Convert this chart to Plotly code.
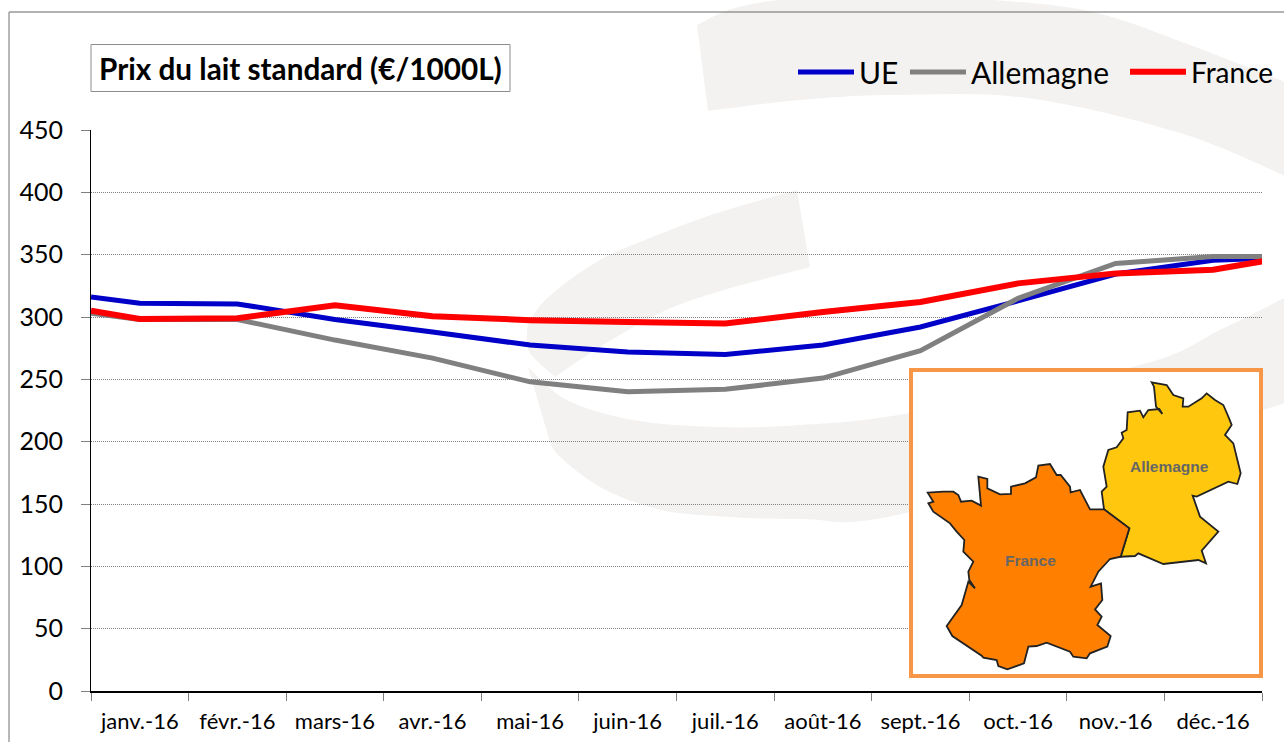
import plotly.graph_objects as go

months = ["janv.-16", "févr.-16", "mars-16", "avr.-16", "mai-16", "juin-16",
          "juil.-16", "août-16", "sept.-16", "oct.-16", "nov.-16", "déc.-16"]
# index positions: month centres 0..11, plus the two clipped edge points of the source line
x_pos = [-0.5, 0, 1, 2, 3, 4, 5, 6, 7, 8, 9, 10, 11, 11.53]
ue = [316, 311, 310.5, 298, 288, 277.5, 272, 270, 277.5, 292, 313, 334.5, 345.5, 347]
allemagne = [303, 298, 298, 281.5, 267, 248, 240, 242, 251, 273, 315, 343, 348.5, 348.5]
france = [305, 298.5, 299, 309.5, 300.7, 297.5, 296, 294.8, 304, 312, 327, 335, 338, 345]
y_ticks = [0, 50, 100, 150, 200, 250, 300, 350, 400, 450]

W, H = 1284, 742
L, R, T, B = 91, 1262, 130, 691


def px(x):
    return (x - L) / (R - L)


def py(y):
    return (B - y) / (B - T)


def poly(pts):
    return "M " + " L ".join(f"{px(x):.5f},{py(y):.5f}" for x, y in pts) + " Z"


def smooth(pts):
    """Closed outline through the pixel points; each list is one smooth run."""
    out = []
    for seg in pts:
        n = len(seg)
        s = ""
        for i in range(n - 1):
            p0 = seg[max(i - 1, 0)]
            p1 = seg[i]
            p2 = seg[i + 1]
            p3 = seg[min(i + 2, n - 1)]
            c1 = (p1[0] + (p2[0] - p0[0]) / 6, p1[1] + (p2[1] - p0[1]) / 6)
            c2 = (p2[0] - (p3[0] - p1[0]) / 6, p2[1] - (p3[1] - p1[1]) / 6)
            if i == 0 and not out:
                s += f"M {px(p1[0]):.5f},{py(p1[1]):.5f} "
            elif i == 0:
                s += f"L {px(p1[0]):.5f},{py(p1[1]):.5f} "
            s += (f"C {px(c1[0]):.5f},{py(c1[1]):.5f} {px(c2[0]):.5f},{py(c2[1]):.5f} "
                  f"{px(p2[0]):.5f},{py(p2[1]):.5f} ")
        out.append(s)
    return "".join(out) + "Z"


SW = "#F3F2F0"
swoosh_top = smooth([
    [(697, 25), (735, 8), (800, -2), (900, -4), (993, 0), (1093, 12), (1190, 45), (1290, 84)],
    [(1290, 178), (1180, 133), (1027, 98), (893, 95), (800, 100), (708, 111)],
])
swoosh_mid = smooth([
    [(797, 190), (717, 213), (650, 238), (600, 260), (553, 293), (532, 317), (527, 333), (530, 353), (555, 377)],
    [(555, 377), (600, 347), (660, 313), (717, 292), (810, 267)],
])
swoosh_low = smooth([
    [(528, 367), (567, 400), (633, 420), (717, 427), (800, 425), (910, 413), (1140, 365), (1220, 330), (1290, 295)],
    [(1290, 394), (1263, 410), (910, 512), (800, 519), (700, 515), (650, 507), (600, 487), (560, 457), (550, 442)],
])

ZX, ZY = 900, 360
france_map = [(83, 398), (130, 395), (160, 395), (175, 405), (183, 425), (215, 422), (243, 437), (235, 350),
              (262, 357), (262, 385), (300, 403), (333, 402), (333, 380), (375, 370), (408, 352), (415, 317),
              (450, 312), (470, 345), (482, 345), (510, 380), (512, 397), (540, 390), (570, 448), (612, 448),
              (688, 505), (662, 590), (630, 597), (595, 635), (572, 680), (603, 670), (607, 720), (585, 748),
              (605, 770), (592, 795), (632, 828), (622, 860), (570, 880), (560, 895), (520, 890), (510, 875),
              (440, 848), (410, 858), (385, 860), (372, 910), (322, 928), (295, 918), (290, 900), (250, 893),
              (245, 887), (157, 828), (140, 798), (185, 735), (205, 665), (225, 685), (208, 660), (205, 635),
              (220, 605), (190, 575), (193, 540), (170, 515), (150, 490), (100, 455), (85, 430), (100, 425)]
germany_map = [(755, 67), (800, 75), (820, 105), (850, 115), (848, 140), (865, 140), (905, 115), (920, 100),
               (945, 120), (970, 135), (985, 170), (995, 195), (975, 225), (1000, 250), (1022, 340), (1012, 372),
               (985, 365), (890, 410), (878, 407), (900, 470), (955, 515), (905, 572), (918, 610), (895, 600),
               (790, 612), (715, 580), (705, 588), (662, 590), (688, 505), (612, 448), (605, 395), (620, 380),
               (610, 320), (625, 270), (650, 262), (670, 235), (665, 218), (680, 210), (683, 157), (720, 152),
               (730, 172), (745, 150), (778, 147), (787, 162), (768, 140), (762, 80)]


def zoomed(pts):
    return [(ZX + x / 3, ZY + y / 3) for x, y in pts]


def rect(x0, y0, x1, y1, **kw):
    return dict(type="rect", xref="paper", yref="paper", x0=px(x0), x1=px(x1), y0=py(y0), y1=py(y1), **kw)


def seg(x0, y0, x1, y1, color, width):
    return dict(type="line", xref="paper", yref="paper", x0=px(x0), x1=px(x1), y0=py(y0), y1=py(y1),
                line=dict(color=color, width=width), layer="below")


shapes = [
    dict(type="path", xref="paper", yref="paper", path=p, fillcolor=SW, line=dict(width=0), layer="below")
    for p in (swoosh_top, swoosh_mid, swoosh_low)
]
shapes += [
    seg(9, 12, 1284, 12, "#666666", 1.2),
    seg(9, 12, 9, 742, "#A0A0A0", 1.5),
    rect(91, 44.5, 510, 91.5, line=dict(color="#8C8C8C", width=1), fillcolor="rgba(255,255,255,0)", layer="below"),
    rect(911, 370, 1261, 676, line=dict(color="#F79646", width=4), fillcolor="white", layer="above"),
    dict(type="path", xref="paper", yref="paper", path=poly(zoomed(germany_map)), fillcolor="#FFC80F",
         line=dict(color="#222222", width=1.8), layer="above"),
    dict(type="path", xref="paper", yref="paper", path=poly(zoomed(france_map)), fillcolor="#FF8000",
         line=dict(color="#222222", width=1.8), layer="above"),
]

font = "Lato, Carlito, sans-serif"
fig = go.Figure()
series = [("UE", ue, "#0000C8", 5, "legend", 799, 30), ("Allemagne", allemagne, "#808080", 5, "legend2", 911, 30),
          ("France", france, "#FF0000", 6, "legend3", 1131, 28)]
legends = {}
for name, vals, color, width, leg, start, fsize in series:
    fig.add_trace(go.Scatter(x=x_pos, y=vals, mode="lines", name=name, cliponaxis=False, legend=leg,
                             line=dict(color=color, width=width)))
    legends[leg] = dict(orientation="h", x=(start - 6) / W, xref="container", xanchor="left", y=1 - 72 / H,
                        yref="container", yanchor="middle", font=dict(size=fsize, family=font), itemwidth=56,
                        bgcolor="rgba(0,0,0,0)")

fig.update_layout(
    width=W, height=H, margin=dict(l=L, r=W - R, t=T, b=H - B),
    paper_bgcolor="white", plot_bgcolor="rgba(0,0,0,0)",
    font=dict(family=font, color="black"),
    title=dict(text="<b>Prix du lait standard (€/1000L)</b>", x=99 / W, xanchor="left", xref="container",
               y=1 - 70 / H, yanchor="middle", yref="container", font=dict(size=29.7, family=font, color="black")),
    shapes=shapes,
    showlegend=True,
    annotations=[
        dict(text="<b>France</b>", xref="paper", yref="paper", x=px(1030), y=py(560), showarrow=False,
             xanchor="center", yanchor="middle",
             font=dict(family="Liberation Sans", size=15.5, color="#666666")),
        dict(text="<b>Allemagne</b>", xref="paper", yref="paper", x=px(1169), y=py(466), showarrow=False,
             xanchor="center", yanchor="middle",
             font=dict(family="Liberation Sans", size=15.5, color="#666666")),
    ],
    **legends,
)
fig.update_xaxes(
    range=[-0.5, 11.5], tickmode="array", tickvals=list(range(12)), ticktext=months, ticks="", showgrid=False,
    tickfont=dict(size=22, family=font), ticklabelstandoff=10, showline=True, linecolor="black", linewidth=1.5,
    zeroline=False, automargin=False,
    minor=dict(tickmode="array", tickvals=[i - 0.5 for i in range(13)], ticks="outside", ticklen=8, tickwidth=1,
               tickcolor="#808080", showgrid=False),
)
fig.update_yaxes(
    range=[0, 450.02], tickmode="array", tickvals=y_ticks, ticks="outside", ticklen=9, tickwidth=1, tickcolor="#808080",
    tickfont=dict(size=25, family=font), ticklabelstandoff=13, showgrid=True, gridcolor="#808080", griddash="1px,1px",
    gridwidth=1, showline=True, linecolor="black", linewidth=1, zeroline=False, automargin=False,
)
fig.write_html("out.html", config={"displayModeBar": False},
               post_script="document.body.style.margin='0';document.body.style.overflow='hidden';")
